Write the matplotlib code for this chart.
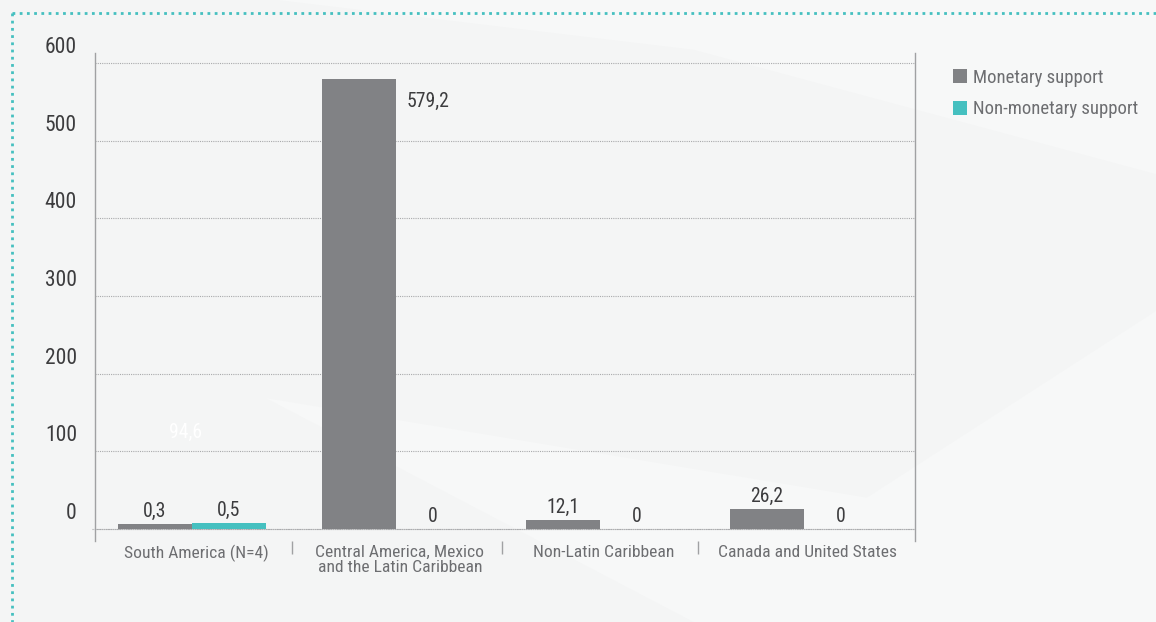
import matplotlib
matplotlib.use('Agg')
import matplotlib.pyplot as plt
import matplotlib.transforms as mtransforms
from matplotlib.lines import Line2D
from matplotlib.patches import Polygon, Patch
import numpy as np

plt.rcParams['font.family'] = ['Roboto Condensed', 'Liberation Sans Narrow', 'Roboto', 'DejaVu Sans']

# data
categories = ['South America (N=4)', 'Central America, Mexico\nand the Latin Caribbean',
              'Non-Latin Caribbean', 'Canada and United States']
monetary = [0.3, 579.2, 12.1, 26.2]
non_monetary = [0.5, 0, 0, 0]
series_names = ['Monetary support', 'Non-monetary support']
yticks = [0, 100, 200, 300, 400, 500, 600]

c_mon = '#818285'
c_non = '#45c0c0'
c_txt = '#3c3c3e'
c_cat = '#6d6e71'
bg = '#f4f5f5'

fig = plt.figure(figsize=(11.56, 6.22), dpi=100, facecolor=bg)

# background layer with faint lighter bands
bgax = fig.add_axes([0, 0, 1, 1], zorder=-1)
bgax.set_xlim(0, 1)
bgax.set_ylim(0, 1)
bgax.axis('off')
bgax.add_patch(Polygon([[0.24, 1.0], [1.0, 1.0], [1.0, 0.72], [0.6, 0.92]], closed=True,
                       facecolor='#f7f8f8', edgecolor='none'))
bgax.add_patch(Polygon([[0.23, 0.36], [0.6, 0.0], [1.0, 0.0], [1.0, 0.5], [0.75, 0.2]], closed=True,
                       facecolor='#f7f8f8', edgecolor='none'))
# dotted frame (top + left)
bgax.add_line(Line2D([12 / 1156, 1.0], [1 - 13 / 622, 1 - 13 / 622],
                     color=c_non, lw=2, linestyle=(0, (1, 1.6))))
bgax.add_line(Line2D([12 / 1156, 12 / 1156], [1 - 13 / 622, 0],
                     color=c_non, lw=2, linestyle=(0, (1, 1.6))))

ax = fig.add_axes([95 / 1156, 1 - 541 / 622, 820 / 1156, 488 / 622])
ax.set_facecolor('none')

x = np.arange(len(categories))
w = 0.363
mon = np.array(monetary)
non = np.array(non_monetary)
# tiny non-zero values get a minimal visible height
mon_h = np.where(mon > 0, np.maximum(mon, 6), 0)
non_h = np.where(non > 0, np.maximum(non, 8), 0)
ax.bar(x - w / 2 - 0.02, mon_h, w, color=c_mon, zorder=3)
ax.bar(x + w / 2 - 0.02, non_h, w, color=c_non, zorder=3)

ax.set_xlim(-0.495, 3.525)
ax.set_ylim(-15.45, 612.9)


def fmt(v):
    return ('%.1f' % v).replace('.', ',') if v != int(v) else str(int(v))


# value labels
for xi, v, h in zip(x, mon, mon_h):
    if v > 500:
        ax.text(xi + 0.034, h - 28, fmt(v), ha='left', va='center', fontsize=14.2, color=c_txt, zorder=4)
    else:
        ax.text(xi - w / 2 - 0.02, h + 4, fmt(v), ha='center', va='bottom', fontsize=14.2, color=c_txt, zorder=4)
for xi, v, h in zip(x, non, non_h):
    ax.text(xi + w / 2 - 0.02, h + 4, fmt(v), ha='center', va='bottom', fontsize=14.2, color=c_txt, zorder=4)

# faint leftover label
ax.text(-0.05, 124, '94,6', ha='center', va='center', fontsize=14.2, color='white', zorder=2)

# grid
ax.set_yticks(yticks)
ax.yaxis.grid(True, color='#a9aaac', linestyle=(0, (1, 1)), linewidth=0.8, zorder=1)
ax.tick_params(axis='y', length=0, pad=13, labelsize=15.5, labelcolor=c_txt)
offset = mtransforms.ScaledTranslation(0, 0.18, fig.dpi_scale_trans)
for lab in ax.get_yticklabels():
    lab.set_transform(lab.get_transform() + offset)
ax.axhline(0, xmin=-0.004, xmax=1, color='#a9aaac', linestyle=(0, (1, 1)), linewidth=0.8,
           clip_on=False, zorder=1)

ax.set_xticks(x)
ax.set_xticklabels(categories, fontsize=12.6, color=c_cat, linespacing=0.95)
ax.tick_params(axis='x', length=0, pad=3)
ax.set_xticks([0.47, 1.5, 2.46], minor=True)
ax.tick_params(axis='x', which='minor', length=9, color='#a0a1a3', width=1, direction='out')

for s in ['top', 'bottom']:
    ax.spines[s].set_visible(False)
for s in ['left', 'right']:
    ax.spines[s].set_color('#a0a1a3')
    ax.spines[s].set_linewidth(1)

handles = [Patch(facecolor=c_mon), Patch(facecolor=c_non)]
fig.legend(handles, series_names, loc='upper left', bbox_to_anchor=(936 / 1156, 1 - 52 / 622),
           frameon=False, fontsize=13.5, handlelength=0.75, handleheight=0.75,
           handletextpad=0.3, labelspacing=0.72, labelcolor=c_cat)

fig.savefig('out.png', dpi=100, facecolor=bg)
